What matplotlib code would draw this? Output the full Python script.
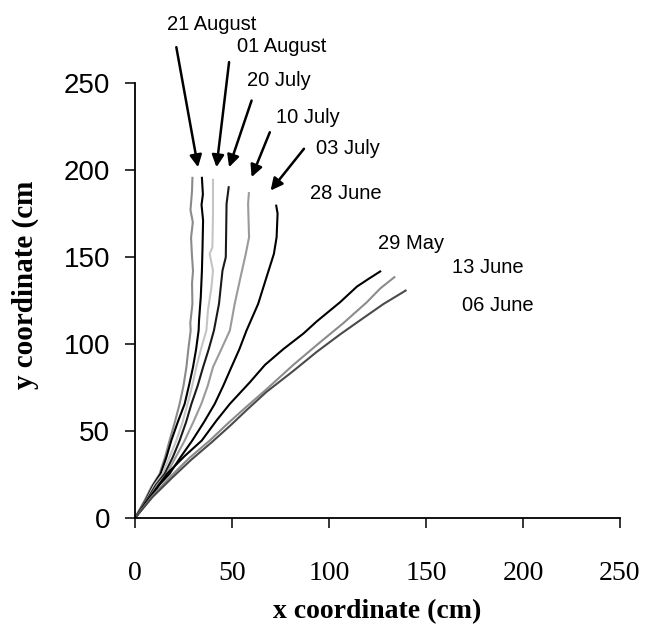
import matplotlib
matplotlib.use("Agg")
import matplotlib.pyplot as plt

# steep curves (left to right at the top)
s1_x = [0, 4.9, 8.5, 12.7, 15.5, 17.8, 20.5, 23.0, 25.0, 26.5, 27.5, 28.7, 28.5, 29.6, 29.4, 29.9, 29.3, 28.9, 29.8, 28.6, 29.4, 29.6]
s1_y = [0, 10, 18, 25.4, 35, 44.5, 55, 65.6, 76, 86.7, 97, 107.8, 112, 123, 135, 142, 152, 161, 170, 177, 188, 195.5]

s2_x = [0, 5.5, 9.5, 13.2, 16.2, 18.7, 22.0, 25.6, 28.0, 29.9, 31.5, 32.8, 33.0, 33.9, 34.5, 34.8, 35.1, 34.3, 35.0, 34.5]
s2_y = [0, 10, 19, 25.4, 35, 44.5, 55, 65.6, 77, 86.7, 97, 107.8, 113.5, 126.9, 142.2, 155, 171, 180, 186, 195.5]

s3_x = [0, 5.8, 10.0, 14.2, 17.8, 21.3, 24.5, 27.1, 29.5, 31.6, 34.0, 36.8, 37.6, 39.4, 40.2, 38.5, 39.9, 40.2, 40.2]
s3_y = [0, 10, 19, 25.4, 35, 44.5, 55, 65.6, 76, 86.7, 97, 107.8, 119.3, 132.6, 142.2, 151.8, 155.6, 175, 194.4]

s4_x = [0, 6.0, 10.8, 15.3, 19.5, 23.0, 26.3, 29.1, 32.3, 35.1, 38.0, 40.7, 43.3, 45.1, 46.8, 47.0, 47.2, 48.3]
s4_y = [0, 10, 19, 25.4, 35, 44.5, 55, 65.6, 76, 86.7, 97, 107.8, 123.1, 142.2, 149.9, 165, 180.6, 190.1]

s5_x = [0, 6.5, 11.5, 16.3, 21.0, 25.6, 30.0, 34.2, 37.5, 40.2, 44.5, 48.9, 51.4, 54.4, 57.1, 58.8, 58.3, 58.7]
s5_y = [0, 10, 19, 25.4, 35, 44.5, 55, 65.6, 76, 86.7, 97, 107.8, 123.1, 138.4, 151.8, 161.4, 180.6, 186.7]

s6_x = [0, 7.0, 12.5, 17.8, 23.5, 29.5, 35.5, 41.1, 45.5, 49.7, 53.8, 57.5, 63.5, 67.8, 71.6, 73.0, 73.5, 72.8]
s6_y = [0, 10, 19, 25.4, 35, 44.5, 55, 65.6, 76, 86.7, 97, 107.8, 123.1, 138.4, 151.8, 161.4, 175, 179.5]

# flatter curves
f1_x = [0, 8.0, 16.5, 25.5, 34.4, 42.0, 48.9, 59.2, 67.0, 76.4, 86.8, 93.7, 105.7, 114.4, 120.5, 126.4]
f1_y = [0, 12.5, 25.4, 35.5, 44.5, 56, 65.6, 78, 88, 97, 106, 113, 124, 133, 137.5, 141.7]

f2_x = [0, 8.5, 18.0, 28.0, 38.5, 48.0, 57.5, 67.8, 81.6, 95.4, 107.4, 119.5, 126.5, 133.7]
f2_y = [0, 12.0, 23.5, 34.5, 44.5, 54.5, 64.0, 74.0, 88.0, 101.0, 112.0, 124.0, 132.0, 138.4]

f3_x = [0, 9.0, 19.0, 29.0, 39.5, 49.0, 58.0, 67.8, 81.6, 93.7, 105.7, 117.8, 128.1, 139.5]
f3_y = [0, 12.0, 23.0, 33.5, 43.5, 53.0, 62.5, 72.5, 84.5, 95.5, 105.5, 115.0, 123.0, 130.7]

arrow_labels = ["21 August", "01 August", "20 July", "10 July", "03 July"]
plain_labels = ["28 June", "29 May", "13 June", "06 June"]
ticks = [0, 50, 100, 150, 200, 250]

fig = plt.figure(figsize=(6.45, 6.37), dpi=100)
ax = fig.add_axes([0.2093, 0.1868, 0.7519, 0.6829])

curves = [
    (s1_x, s1_y, "#8a8a8a"),
    (s2_x, s2_y, "#000000"),
    (s3_x, s3_y, "#c4c4c4"),
    (s4_x, s4_y, "#1a1a1a"),
    (s5_x, s5_y, "#9a9a9a"),
    (s6_x, s6_y, "#000000"),
    (f1_x, f1_y, "#000000"),
    (f2_x, f2_y, "#8c8c8c"),
    (f3_x, f3_y, "#4a4a4a"),
]
for cx, cy, col in curves:
    ax.plot(cx, cy, color=col, lw=1.5, solid_joinstyle="miter")

ax.set_xlim(0, 250)
ax.set_ylim(0, 250)
ax.set_xticks(ticks)
ax.set_yticks(ticks)
for s in ["top", "right"]:
    ax.spines[s].set_visible(False)
for s in ["left", "bottom"]:
    ax.spines[s].set_linewidth(1.3)

ax.tick_params(axis="both", direction="out", length=7, width=1.1)
ax.tick_params(axis="x", pad=24)
ax.tick_params(axis="y", pad=11)
for lab in ax.get_xticklabels():
    lab.set_fontfamily("Liberation Serif")
    lab.set_fontsize(20)
for lab in ax.get_yticklabels():
    lab.set_fontfamily("Liberation Sans")
    lab.set_fontsize(20)

ax.set_xlabel("x coordinate (cm)", fontfamily="Liberation Serif",
              fontweight="bold", fontsize=20, va="center")
ax.xaxis.set_label_coords(0.5, -0.216)
ax.set_ylabel("y coordinate (cm", fontfamily="Liberation Serif",
              fontweight="bold", fontsize=21, va="center", ha="center")
ax.yaxis.set_label_coords(-0.227, 0.536)

# annotation layout (label centre, arrow start, arrow tip), in data units
arrow_pos = [(39.6, 283.6), (75.6, 271.1), (74.2, 251.4), (89.2, 229.9), (109.6, 212.2)]
arrow_from = [(21.3, 270.6), (48.5, 262.0), (60.1, 239.9), (69.5, 221.7), (87.1, 212.2)]
arrow_to = [(32.5, 201.6), (42.0, 201.6), (48.5, 201.6), (60.1, 195.9), (69.9, 188.2)]
plain_pos = [(108.7, 186.3), (142.4, 157.6), (182.0, 143.7), (186.8, 122.1)]

for txt, p, a0, a1 in zip(arrow_labels, arrow_pos, arrow_from, arrow_to):
    ax.text(p[0], p[1], txt, fontfamily="Liberation Sans", fontsize=14.5,
            ha="center", va="center", clip_on=False)
    ax.annotate("", xy=a1, xytext=a0, annotation_clip=False,
                arrowprops=dict(arrowstyle="-|>", color="black", lw=1.8,
                                mutation_scale=18, shrinkA=0, shrinkB=0))
for txt, p in zip(plain_labels, plain_pos):
    ax.text(p[0], p[1], txt, fontfamily="Liberation Sans", fontsize=14.5,
            ha="center", va="center")

fig.savefig("out.png", dpi=100)
